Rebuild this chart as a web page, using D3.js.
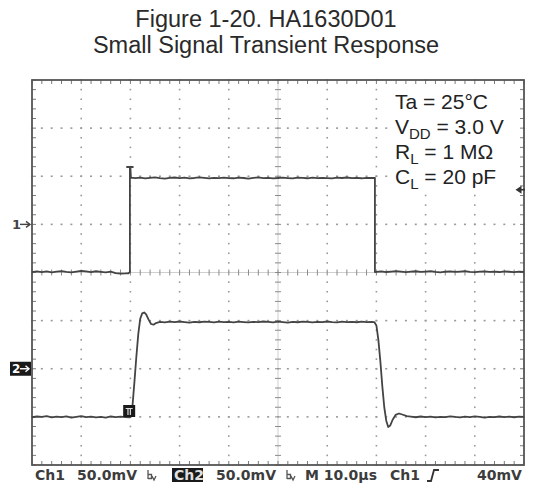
<!DOCTYPE html>
<html><head><meta charset="utf-8">
<script src="https://cdn.jsdelivr.net/npm/d3@7"></script>
<style>body{margin:0;background:#fff}svg{display:block}</style></head>
<body><svg id="c" width="536" height="484"></svg>
<script>
// ---------- data ----------
const titleLines = ["Figure 1-20. HA1630D01", "Small Signal Transient Response"];
const conditions = [
  ["Ta = 25°C", "", ""],
  ["V", "DD", " = 3.0 V"],
  ["R", "L", " = 1 MΩ"],
  ["C", "L", " = 20 pF"]
];
const timeDomain = [0, 100];        // µs, 10 µs/div
const timeDivs = 10, voltDivs = 8, minorPerDiv = 5;
const ch1Domain = [-250, 150];      // mV, 50 mV/div, ground marker 1 div above centre
const ch2Domain = [-100, 300];      // mV, 50 mV/div, ground marker 2 div below centre
const ch1Ground = 0, ch2Ground = 0, triggerMarkerLevel = 36, triggerTime = 19.75;
const readout = ["Ch1", "50.0mV", "Ch2", "50.0mV", "M 10.0µs", "Ch1", "40mV"];

// Ch1 : input pulse [µs, mV]
const ch1 = [
 [0,-49.5],[1,-48.8],[2,-49.6],[3,-48.9],[4,-49.8],[5,-49.2],[6,-48.6],[7,-49.4],[8,-49.9],[9,-49.1],
 [10,-48.3],[11,-48.9],[12,-49.5],[13,-48.7],[14,-49.3],[15,-49.8],[16,-49.0],[17,-50.6],[18,-51.2],[19,-51.0],
 [19.6,-50.8],[19.9,-49.5],[19.9,59.6],[19.3,59.6],[20.5,59.6],[20.0,59.6],[20.1,48.5],
 [21,48.0],[22,48.6],[23,47.9],[24,48.4],[25,48.8],[26,48.1],[27,47.6],[28,48.3],[29,48.7],[30,48.0],
 [31,48.5],[32,47.8],[33,48.2],[34,48.9],[35,48.3],[36,47.7],[37,48.4],[38,48.0],[39,48.6],[40,48.1],
 [41,47.9],[42,48.5],[43,48.2],[44,47.6],[45,48.3],[46,48.8],[47,48.0],[48,48.4],[49,47.8],[50,48.2],
 [51,48.6],[52,48.1],[53,47.7],[54,48.5],[55,48.3],[56,47.9],[57,48.6],[58,48.0],[59,48.4],[60,48.1],
 [61,47.8],[62,48.5],[63,48.2],[64,48.7],[65,48.0],[66,48.3],[67,47.9],[68,48.4],[69,48.2],
 [69.7,48.3],[69.7,-49.5],
 [70,-49.3],[71,-48.8],[72,-49.5],[73,-49.0],[74,-48.6],[75,-49.2],[76,-49.7],[77,-49.1],[78,-48.7],[79,-49.4],
 [80,-49.0],[81,-48.5],[82,-49.3],[83,-49.8],[84,-49.2],[85,-48.9],[86,-49.4],[87,-49.0],[88,-48.6],[89,-49.3],
 [90,-49.7],[91,-49.1],[92,-48.8],[93,-49.4],[94,-49.0],[95,-49.5],[96,-48.9],[97,-49.2],[98,-49.6],[99,-49.0],[100,-49.3]
];

// Ch2 : output response [µs, mV]
const ch2 = [
 [0,-50.4],[1,-49.6],[2,-50.1],[3,-49.3],[4,-50.6],[5,-49.8],[6,-50.2],[7,-49.5],[8,-50.7],[9,-49.9],
 [10,-49.2],[11,-50.3],[12,-49.7],[13,-50.5],[14,-49.9],[15,-50.8],[16,-49.6],[17,-50.2],[18,-49.8],[19,-50.3],
 [19.9,-50.4],[20.1,-49.5],[20.4,-40],[20.8,-15],[21.2,12],[21.6,36],[22.0,52],[22.4,57.5],[22.8,58.5],
 [23.2,56.5],[23.7,51],[24.2,46.5],[24.7,45.8],[25.2,47.5],[26,48.6],
 [27,48.2],[28,48.9],[29,48.4],[30,49.1],[31,48.5],[32,48.0],[33,48.8],[34,48.3],[35,49.0],[36,48.6],
 [37,48.1],[38,48.9],[39,48.4],[40,48.7],[41,48.2],[42,49.0],[43,48.5],[44,48.1],[45,48.8],[46,48.4],
 [47,49.1],[48,48.6],[49,48.2],[50,48.9],[51,48.5],[52,48.0],[53,48.7],[54,48.3],[55,49.0],[56,48.6],
 [57,48.2],[58,48.8],[59,48.4],[60,49.1],[61,48.5],[62,48.1],[63,48.9],[64,48.4],[65,48.7],[66,48.3],
 [67,48.9],[68,48.5],[69,48.6],[69.6,48.4],
 [70.0,45],[70.4,30],[70.8,8],[71.2,-18],[71.6,-40],[72.0,-54],[72.4,-60.5],[72.8,-59],[73.3,-53],
 [73.9,-48],[74.6,-46.5],[75.4,-47.8],[76.2,-49.3],
 [77,-49.8],[78,-50.4],[79,-49.6],[80,-50.2],[81,-49.7],[82,-50.5],[83,-49.9],[84,-50.3],[85,-49.4],[86,-50.1],
 [87,-50.6],[88,-49.8],[89,-50.2],[90,-49.5],[91,-50.0],[92,-50.7],[93,-49.9],[94,-50.3],[95,-49.6],[96,-50.2],
 [97,-49.8],[98,-50.4],[99,-49.7],[100,-50.1]
];

// ---------- layout ----------
const svg = d3.select("#c");
const L = 32, R = 524, T = 80, B = 465;
const x = d3.scaleLinear().domain(timeDomain).range([L, R]);
const yDiv = d3.scaleLinear().domain([-voltDivs/2, voltDivs/2]).range([B, T]);
const y1 = d3.scaleLinear().domain(ch1Domain).range([B, T]);
const y2 = d3.scaleLinear().domain(ch2Domain).range([B, T]);
const step = (timeDomain[1]-timeDomain[0])/timeDivs;
const tc = (timeDomain[0]+timeDomain[1])/2;

svg.append("rect").attr("width",536).attr("height",484).attr("fill","#fff");

// title
svg.selectAll("text.title").data(titleLines).join("text")
  .attr("x", 266).attr("y", (d,i)=> 27 + i*26)
  .attr("text-anchor","middle").attr("font-family","'Liberation Sans', Arial, sans-serif")
  .attr("font-size", 23.5).attr("fill","#2a2a2a").text(d=>d);

const grid = svg.append("g");
const dotColor = "#9a9a9a";
const majorT = d3.range(1, timeDivs).map(i => timeDomain[0] + i*step);
const minorT = d3.range(0, timeDivs*minorPerDiv + 1).map(i => timeDomain[0] + i*step/minorPerDiv);
const majorV = d3.range(-voltDivs/2+1, voltDivs/2);
const minorV = d3.range(0, voltDivs*minorPerDiv + 1).map(i => -voltDivs/2 + i/minorPerDiv);

majorT.filter(t => t !== tc).forEach(t => {
  minorV.forEach(v => grid.append("rect").attr("x", x(t)-0.8).attr("y", yDiv(v)-0.8)
    .attr("width",1.6).attr("height",1.6).attr("fill",dotColor));
});
majorV.filter(v => v !== 0).forEach(v => {
  minorT.forEach(t => grid.append("rect").attr("x", x(t)-1).attr("y", yDiv(v)-0.8)
    .attr("width",2).attr("height",1.6).attr("fill",dotColor));
});
// centre lines with ticks
grid.append("line").attr("x1",x(tc)).attr("x2",x(tc)).attr("y1",T).attr("y2",B)
  .attr("stroke","#cfcfcf").attr("stroke-width",1);
grid.append("line").attr("x1",L).attr("x2",R).attr("y1",yDiv(0)).attr("y2",yDiv(0))
  .attr("stroke","#cfcfcf").attr("stroke-width",1);
minorV.forEach(v => grid.append("line").attr("x1",x(tc)-3).attr("x2",x(tc)+3)
  .attr("y1",yDiv(v)).attr("y2",yDiv(v)).attr("stroke","#8a8a8a"));
minorT.forEach(t => grid.append("line").attr("x1",x(t)).attr("x2",x(t))
  .attr("y1",yDiv(0)-3).attr("y2",yDiv(0)+3).attr("stroke","#8a8a8a"));
// border ticks
minorT.forEach(t => {
  grid.append("line").attr("x1",x(t)).attr("x2",x(t)).attr("y1",T).attr("y2",T+4).attr("stroke","#7a7a7a");
  grid.append("line").attr("x1",x(t)).attr("x2",x(t)).attr("y1",B).attr("y2",B-4).attr("stroke","#7a7a7a");
});
minorV.forEach(v => {
  grid.append("line").attr("x1",L).attr("x2",L+4).attr("y1",yDiv(v)).attr("y2",yDiv(v)).attr("stroke","#7a7a7a");
  grid.append("line").attr("x1",R).attr("x2",R-4).attr("y1",yDiv(v)).attr("y2",yDiv(v)).attr("stroke","#7a7a7a");
});
// frame
svg.append("rect").attr("x",L).attr("y",T).attr("width",R-L).attr("height",B-T)
  .attr("fill","none").attr("stroke","#555").attr("stroke-width",1.8);

// traces
const line1 = d3.line().x(d=>x(d[0])).y(d=>y1(d[1]));
const line2 = d3.line().x(d=>x(d[0])).y(d=>y2(d[1]));
svg.append("path").attr("d", line1(ch1)).attr("fill","none").attr("stroke","#444")
  .attr("stroke-width",1.8).attr("stroke-linejoin","round");
svg.append("path").attr("d", line2(ch2)).attr("fill","none").attr("stroke","#444")
  .attr("stroke-width",1.8).attr("stroke-linejoin","round");

// conditions box
const cb = svg.append("g");
cb.append("rect").attr("x",393).attr("y",85).attr("width",127).attr("height",103).attr("fill","#fff");
conditions.forEach((c,i) => {
  const t = cb.append("text").attr("x",395).attr("y",109 + i*25)
    .attr("font-family","'Liberation Sans', Arial, sans-serif").attr("font-size",21).attr("fill","#222");
  t.append("tspan").text(c[0]);
  if (c[1]) {
    t.append("tspan").attr("font-size",15).attr("dy",5).text(c[1]);
    t.append("tspan").attr("dy",-5).text(c[2]);
  }
});

// channel markers
const mk = svg.append("g").attr("font-family","'DejaVu Sans', sans-serif").attr("font-weight","bold");
const m1 = y1(ch1Ground);
mk.append("text").attr("x",12).attr("y",m1+5).attr("font-size",13).attr("fill","#444").text("1");
mk.append("line").attr("x1",20).attr("x2",30).attr("y1",m1).attr("y2",m1).attr("stroke","#444").attr("stroke-width",1.4);
mk.append("path").attr("d",`M26,${m1-3}L30,${m1}L26,${m1+3}`).attr("fill","none").attr("stroke","#444").attr("stroke-width",1.4);
const m2 = y2(ch2Ground);
mk.append("rect").attr("x",10).attr("y",m2-7).attr("width",21).attr("height",14).attr("fill","#1a1a1a");
mk.append("text").attr("x",12).attr("y",m2+4.5).attr("font-size",12).attr("fill","#fff").text("2");
mk.append("line").attr("x1",20).attr("x2",29).attr("y1",m2).attr("y2",m2).attr("stroke","#fff").attr("stroke-width",1.4);
mk.append("path").attr("d",`M25.5,${m2-3}L29,${m2}L25.5,${m2+3}`).attr("fill","none").attr("stroke","#fff").attr("stroke-width",1.4);
// trigger level arrow
const tl = y1(triggerMarkerLevel);
mk.append("line").attr("x1",518).attr("x2",525).attr("y1",tl).attr("y2",tl).attr("stroke","#333").attr("stroke-width",1.6);
mk.append("path").attr("d",`M521.5,${tl-4}L515.5,${tl}L521.5,${tl+4}Z`).attr("fill","#333");
// trigger position T box
const tx = x(triggerTime);
mk.append("rect").attr("x",tx-6).attr("y",405).attr("width",12).attr("height",12).attr("fill","#1a1a1a");
mk.append("path").attr("d",`M${tx-3.5},408.5H${tx+3.5}M${tx-1.2},408.5V415M${tx+1.2},408.5V415`)
  .attr("stroke","#ddd").attr("stroke-width",1.2);

// readout
const ro = svg.append("g").attr("font-family","'DejaVu Sans', sans-serif").attr("font-weight","bold")
  .attr("font-size",14).attr("fill","#3c3c3c");
const roX = [35, 77, 174, 216, 305, 390, 477];
readout.forEach((s,i) => {
  if (i === 2) ro.append("rect").attr("x",172).attr("y",468).attr("width",31).attr("height",14).attr("fill","#1a1a1a");
  ro.append("text").attr("x",roX[i]).attr("y",480).attr("fill", i===2 ? "#e0e0e0" : "#3c3c3c").text(s);
});
// bandwidth-limit symbols
[148, 287].forEach(bx => {
  ro.append("path").attr("d",`M${bx},470V479M${bx},474.5h3.5v4h-3.5M${bx+4},476l2,4l2,-4`)
    .attr("fill","none").attr("stroke","#555").attr("stroke-width",1.3);
});
// rising slope symbol
ro.append("path").attr("d","M427,481H431L434,470H439").attr("fill","none").attr("stroke","#333").attr("stroke-width",1.8);
</script></body></html>
